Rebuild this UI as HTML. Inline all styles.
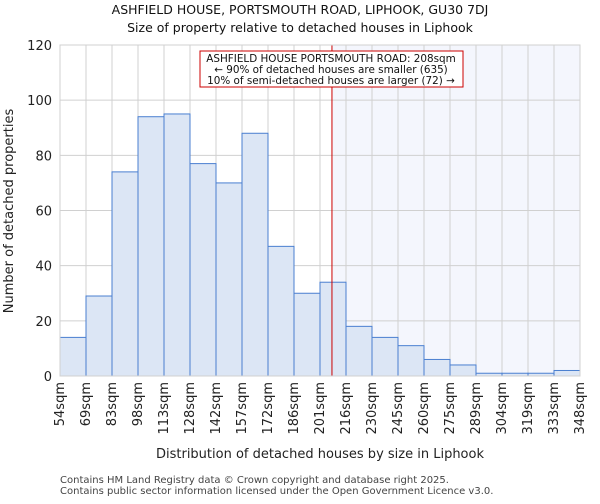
<!DOCTYPE html>
<html><head><meta charset="utf-8"><style>
body{margin:0;background:#fff;font-family:"DejaVu Sans","Liberation Sans",sans-serif}
svg text{font-family:"DejaVu Sans","Liberation Sans",sans-serif}
</style></head><body>
<svg id="c" width="600" height="500" xmlns="http://www.w3.org/2000/svg"></svg>
<script>
const binLabels=["54sqm","69sqm","83sqm","98sqm","113sqm","128sqm","142sqm","157sqm","172sqm","186sqm","201sqm","216sqm","230sqm","245sqm","260sqm","275sqm","289sqm","304sqm","319sqm","333sqm","348sqm"];
const counts=[14,29,74,94,95,77,70,88,47,30,34,18,14,11,6,4,1,1,1,2];
const yTicks=[0,20,40,60,80,100,120];
const markerBin=10.46;
const svg=document.getElementById('c');
const NS='http://www.w3.org/2000/svg';
const L=60,R=580,T=45,B=376,yMax=120;
const n=counts.length,bw=(R-L)/n;
const x=i=>L+i*bw, y=v=>B-(v/yMax)*(B-T);
function mk(t,a,txt){const e=document.createElementNS(NS,t);for(const k in a)e.setAttribute(k,a[k]);if(txt!=null)e.textContent=txt;svg.appendChild(e);return e;}
let e;
e=mk('rect',{x:x(markerBin),y:T,width:R-x(markerBin),height:B-T,fill:'#f4f6fd'});


yTicks.forEach(v=>{e=mk('line',{x1:L,x2:R,y1:y(v),y2:y(v),stroke:'#d0d0d0'});


e=mk('text',{x:L-8,y:y(v)+5,'text-anchor':'end','font-size':13,fill:'#222'},v);

});
for(let i=0;i<=n;i++){e=mk('line',{x1:x(i),x2:x(i),y1:T,y2:B,stroke:'#d0d0d0'});

}
counts.forEach((v,i)=>{e=mk('rect',{x:x(i),y:y(v),width:bw,height:B-y(v),fill:'#dce6f5',stroke:'#4a7fd0','stroke-width':1});

});
binLabels.forEach((s,i)=>{const xx=x(i)+4;e=mk('text',{x:0,y:0,transform:`translate(${xx},${B+6}) rotate(-90)`,'text-anchor':'end','font-size':13,fill:'#222'},s);

});
e=mk('line',{x1:x(markerBin),x2:x(markerBin),y1:T,y2:B,stroke:'#cc0000','stroke-width':1});


e=mk('rect',{x:200,y:51,width:263,height:36,fill:'#fff',stroke:'#cc0000'});


[["ASHFIELD HOUSE PORTSMOUTH ROAD: 208sqm",62],["← 90% of detached houses are smaller (635)",73],["10% of semi-detached houses are larger (72) →",84]].forEach(a=>{e=mk('text',{x:331,y:a[1],'text-anchor':'middle','font-size':10.4,fill:'#111'},a[0]);

});
e=mk('rect',{x:L,y:T,width:R-L,height:B-T,fill:'none',stroke:'#d0d0d0'});


e=mk('text',{x:300,y:14,'text-anchor':'middle','font-size':12.5,fill:'#111'},'ASHFIELD HOUSE, PORTSMOUTH ROAD, LIPHOOK, GU30 7DJ');


e=mk('text',{x:300,y:32,'text-anchor':'middle','font-size':12.5,fill:'#111'},'Size of property relative to detached houses in Liphook');


e=mk('text',{x:0,y:0,transform:'translate(13,211) rotate(-90)','text-anchor':'middle','font-size':13,fill:'#222'},'Number of detached properties');


e=mk('text',{x:320,y:458,'text-anchor':'middle','font-size':13,fill:'#222'},'Distribution of detached houses by size in Liphook');


e=mk('text',{x:60,y:483,'font-size':10,fill:'#444'},'Contains HM Land Registry data © Crown copyright and database right 2025.');


e=mk('text',{x:60,y:494,'font-size':10,fill:'#444'},'Contains public sector information licensed under the Open Government Licence v3.0.');


</script>
</body></html>
